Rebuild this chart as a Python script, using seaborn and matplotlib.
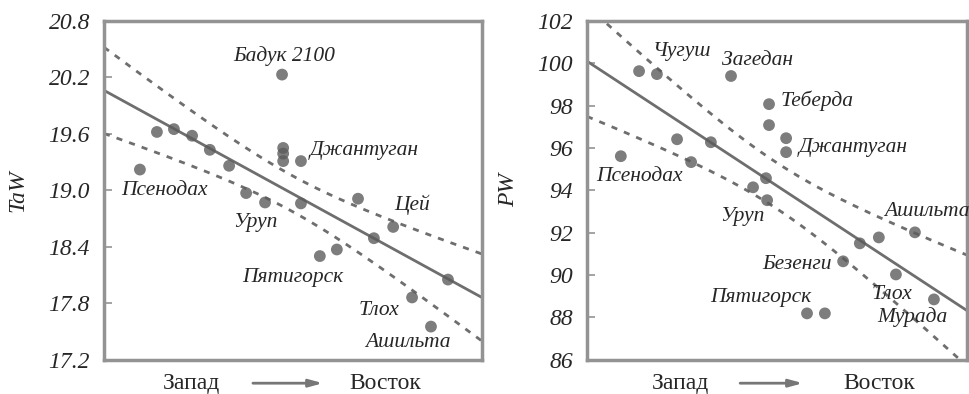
import numpy as np
import pandas as pd
import matplotlib
matplotlib.use("Agg")
import matplotlib.pyplot as plt
import seaborn as sns

# ---------------- data ----------------
# left panel: TaW
taw_x = [9.5, 14.0, 18.5, 23.3, 28.0, 33.1, 37.6, 42.6, 47.1, 47.4, 47.4, 47.4,
         52.1, 52.1, 57.1, 61.6, 67.2, 71.4, 76.5, 81.5, 86.5, 91.0]
taw_y = [19.22, 19.62, 19.65, 19.58, 19.43, 19.26, 18.97, 18.87, 20.23, 19.45, 19.39, 19.31,
         19.31, 18.86, 18.30, 18.37, 18.91, 18.49, 18.61, 17.86, 17.55, 18.05]
taw_labels = ["Бадук 2100", "Джантуган", "Псенодах", "Уруп", "Цей", "Пятигорск", "Тлох", "Ашильта"]
taw_lab_x = [47.6, 54.5, 15.9, 40.0, 81.5, 50.0, 72.8, 80.4]
taw_lab_y = [20.43, 19.42, 19.00, 18.66, 18.84, 18.07, 17.72, 17.38]
taw_lab_ha = ["center", "left", "center", "center", "center", "center", "center", "center"]
taw_ticks = [17.2, 17.8, 18.4, 19.0, 19.6, 20.2, 20.8]

# right panel: PW
pw_x = [8.9, 13.7, 18.4, 23.7, 27.4, 32.6, 37.9, 43.7, 47.1, 47.4, 47.9, 47.9,
        52.4, 52.4, 57.9, 62.6, 67.4, 71.8, 76.8, 81.3, 86.3, 91.3]
pw_y = [95.61, 99.63, 99.49, 96.41, 95.33, 96.27, 99.40, 94.14, 94.57, 93.53, 98.07, 97.08,
        96.46, 95.80, 88.18, 88.18, 90.64, 91.49, 91.77, 90.02, 92.01, 88.84]
pw_labels = ["Чугуш", "Загедан", "Теберда", "Джантуган", "Псенодах", "Уруп", "Ашильта",
             "Безенги", "Пятигорск", "Тлох", "Мурада"]
pw_lab_x = [25.0, 45.0, 60.5, 70.0, 13.9, 40.8, 89.5, 55.3, 45.8, 80.3, 85.5]
pw_lab_y = [100.58, 100.11, 98.21, 96.04, 94.66, 92.77, 93.01, 90.50, 88.93, 89.05, 87.99]
pw_ticks = [86, 88, 90, 92, 94, 96, 98, 100, 102]

x_left_word, x_right_word = "Запад", "Восток"

# ---------------- style ----------------
sns.set_style("white")
plt.rcParams["font.family"] = ["Liberation Serif", "DejaVu Serif"]

POINT = "#5c5c5c"
LINE = "#6e6e6e"
SPINE = "#939393"

fig = plt.figure(figsize=(9.69, 3.94), dpi=100)
axL = fig.add_axes([104 / 969, 1 - 359.5 / 394, 378 / 969, 338.5 / 394])
axR = fig.add_axes([587 / 969, 1 - 359.5 / 394, 380 / 969, 338.5 / 394])


def band(x, y, xs, t=2.09):
    x = np.asarray(x, float)
    y = np.asarray(y, float)
    n = len(x)
    b, a = np.polyfit(x, y, 1)
    res = y - (a + b * x)
    s = np.sqrt(np.sum(res ** 2) / (n - 2))
    sxx = np.sum((x - x.mean()) ** 2)
    yh = a + b * xs
    se = s * np.sqrt(1.0 / n + (xs - x.mean()) ** 2 / sxx)
    return yh - t * se, yh + t * se


def panel(ax, xs, ys, ylim, ticks, ylabel, ylabx, labels, lx, ly, ha, fmt):
    ax.set_xlim(0, 100)
    ax.set_ylim(*ylim)
    df = pd.DataFrame({"x": xs, "y": ys})
    sns.regplot(data=df, x="x", y="y", ax=ax, ci=None, truncate=False,
                scatter_kws=dict(s=72, color=POINT, edgecolor="none", zorder=3),
                line_kws=dict(color=LINE, lw=2.0, zorder=2))
    grid = np.linspace(0, 100, 200)
    lo, hi = band(xs, ys, grid)
    for yy in (lo, hi):
        ax.plot(grid, yy, color=LINE, lw=2.0, ls=(0, (2.2, 2.6)), zorder=2)
    ax.set_xlim(0, 100)
    ax.set_ylim(*ylim)
    ax.set_xticks([])
    ax.set_yticks(ticks)
    ax.set_yticklabels([fmt.format(t) for t in ticks])
    ax.tick_params(axis="y", direction="in", length=6, width=1.2, color=SPINE,
                   pad=10, left=True, labelsize=17)
    for lbl in ax.get_yticklabels():
        lbl.set_fontstyle("italic")
        lbl.set_fontfamily(["Liberation Serif", "DejaVu Serif"])
    ax.set_xlabel("")
    ax.set_ylabel("")
    for sp in ax.spines.values():
        sp.set_color(SPINE)
        sp.set_linewidth(2.5)
    ax.text(ylabx, 0.5, ylabel, transform=ax.transAxes, rotation=90,
            fontsize=17, style="italic", ha="center", va="center")
    for t, x, y, h in zip(labels, lx, ly, ha):
        ax.text(x, y, t, fontsize=15.5, style="italic", ha=h, va="center", zorder=4)


panel(axL, taw_x, taw_y, (17.2, 20.8), taw_ticks, "TaW", -0.228,
      taw_labels, taw_lab_x, taw_lab_y, taw_lab_ha, "{:.1f}")
panel(axR, pw_x, pw_y, (86, 102), pw_ticks, "PW", -0.205,
      pw_labels, pw_lab_x, pw_lab_y, ["center"] * len(pw_labels), "{:.0f}")

# West -> East captions
for ax, (wz, a0, a1, ez) in ((axL, (0.230, 0.394, 0.579, 0.743)),
                             (axR, (0.245, 0.403, 0.568, 0.768))):
    yy = -0.07
    ax.text(wz, yy, x_left_word, transform=ax.transAxes, fontsize=17,
            ha="center", va="center")
    ax.text(ez, yy, x_right_word, transform=ax.transAxes, fontsize=17,
            ha="center", va="center")
    ax.annotate("", xy=(a1, yy), xytext=(a0, yy), xycoords="axes fraction",
                textcoords="axes fraction",
                arrowprops=dict(arrowstyle="-|>,head_length=0.8,head_width=0.22",
                                color="#777777", lw=2.0, shrinkA=0, shrinkB=0),
                annotation_clip=False)

fig.savefig("out.png", dpi=100)
